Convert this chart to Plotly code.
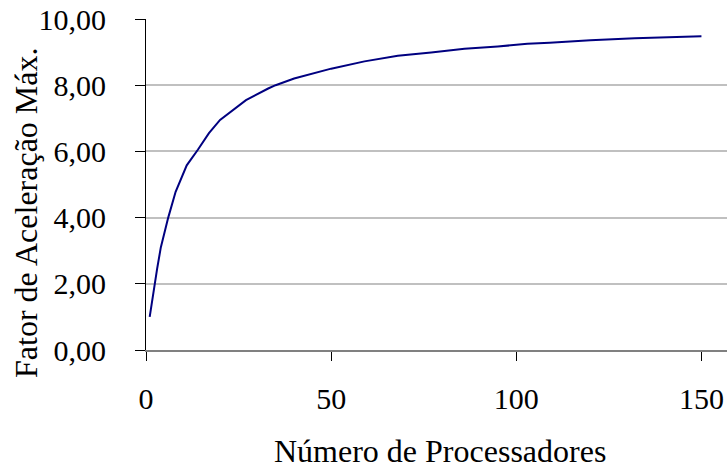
import plotly.graph_objects as go

# Data
processadores = [1, 2, 3, 4, 6, 8, 10, 11, 14, 17, 20, 24, 27, 33, 35, 40, 45, 50,
                 59, 68, 77, 86, 95, 103, 109, 120, 132, 150]
fator_aceleracao = [1.00, 1.80, 2.45, 3.10, 4.00, 4.78, 5.35, 5.58, 6.05, 6.55, 6.95,
                    7.30, 7.55, 7.90, 8.00, 8.20, 8.35, 8.50, 8.72, 8.89, 8.99, 9.10,
                    9.17, 9.25, 9.28, 9.36, 9.42, 9.48]
x_ticks = [0, 50, 100, 150]
y_ticks = [0, 2, 4, 6, 8, 10]
x_title = "Número de Processadores"
y_title = "Fator de Aceleração Máx."

FONT = "Liberation Serif"

fig = go.Figure()
fig.add_trace(go.Scatter(
    x=processadores, y=fator_aceleracao, mode="lines",
    line=dict(color="#000080", width=2), showlegend=False,
))

fig.update_layout(
    width=727, height=470,
    margin=dict(l=146, r=0, t=19, b=120),
    paper_bgcolor="white", plot_bgcolor="white",
    separators=",.",
    font=dict(family=FONT, size=30, color="black"),
    annotations=[
        dict(text=x_title, xref="paper", yref="paper", x=0.506, y=-0.305,
             xanchor="center", yanchor="middle", showarrow=False,
             font=dict(family=FONT, size=32, color="black")),
        dict(text=y_title, xref="paper", yref="paper", x=-0.2065, y=0.414,
             xanchor="center", yanchor="middle", showarrow=False, textangle=-90,
             font=dict(family=FONT, size=32, color="black")),
    ],
)

fig.update_xaxes(
    range=[0, 156.9], tickvals=x_ticks, ticktext=[str(v) for v in x_ticks],
    showgrid=False, zeroline=False,
    showline=True, linecolor="#808080", linewidth=2,
    ticks="outside", ticklen=9, tickcolor="black", tickwidth=1,
    tickfont=dict(family=FONT, size=30), ticklabelstandoff=12,
)
fig.update_yaxes(
    range=[0, 10], tickvals=y_ticks, tickformat=".2f",
    showgrid=True, gridcolor="#c0c0c0", gridwidth=1.5, zeroline=False,
    showline=True, linecolor="black", linewidth=1,
    ticks="outside", ticklen=10, tickcolor="black", tickwidth=1,
    tickfont=dict(family=FONT, size=30), ticklabelstandoff=23,
)

fig.write_html("out.html")
